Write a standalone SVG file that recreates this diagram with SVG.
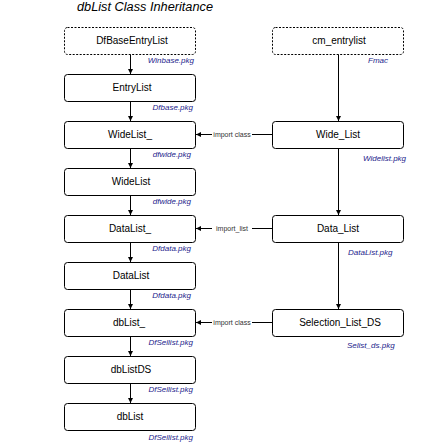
<svg xmlns="http://www.w3.org/2000/svg" width="438" height="448" viewBox="0 0 438 448">
<defs>
<marker id="ah" viewBox="0 0 8 8" refX="8" refY="4" markerWidth="5" markerHeight="5" orient="auto" markerUnits="userSpaceOnUse">
<path d="M0,0 L8,4 L0,8 z" fill="#000"/>
</marker>
<style>
.box{fill:#fff;stroke:#000;stroke-width:1}
.dot{stroke-dasharray:2,1.5}
.nt{font-family:"Liberation Sans",Arial,sans-serif;font-size:10px;fill:#000;text-anchor:middle}
.pk{font-family:"Liberation Sans",Arial,sans-serif;font-size:8px;font-style:italic;fill:#1c1c8c}
.pl{text-anchor:end}
.cl{font-family:"Liberation Sans",Arial,sans-serif;font-size:7px;fill:#333;text-anchor:middle}
.ln{stroke:#000;stroke-width:1;fill:none}
.ttl{font-family:"Liberation Sans",Arial,sans-serif;font-size:12px;font-style:italic;fill:#000}
</style>
</defs>
<rect width="438" height="448" fill="#fff"/>
<text class="ttl" x="77" y="10.5" textLength="136" lengthAdjust="spacingAndGlyphs">dbList Class Inheritance</text>

<g id="connectors">
<line class="ln" x1="130.5" y1="54" x2="130.5" y2="74" marker-end="url(#ah)"/>
<line class="ln" x1="130.5" y1="101" x2="130.5" y2="121" marker-end="url(#ah)"/>
<line class="ln" x1="130.5" y1="148" x2="130.5" y2="168" marker-end="url(#ah)"/>
<line class="ln" x1="130.5" y1="195" x2="130.5" y2="215" marker-end="url(#ah)"/>
<line class="ln" x1="130.5" y1="242" x2="130.5" y2="262" marker-end="url(#ah)"/>
<line class="ln" x1="130.5" y1="289" x2="130.5" y2="309" marker-end="url(#ah)"/>
<line class="ln" x1="130.5" y1="336" x2="130.5" y2="356" marker-end="url(#ah)"/>
<line class="ln" x1="130.5" y1="383" x2="130.5" y2="403" marker-end="url(#ah)"/>
<line class="ln" x1="338.5" y1="54" x2="338.5" y2="121" marker-end="url(#ah)"/>
<line class="ln" x1="338.5" y1="148" x2="338.5" y2="215" marker-end="url(#ah)"/>
<line class="ln" x1="338.5" y1="242" x2="338.5" y2="309" marker-end="url(#ah)"/>
<line class="ln" x1="212" y1="134.5" x2="196" y2="134.5" marker-end="url(#ah)"/>
<line class="ln" x1="252" y1="134.5" x2="272" y2="134.5"/>
<text class="cl" x="232" y="137">import class</text>
<line class="ln" x1="212" y1="228.5" x2="196" y2="228.5" marker-end="url(#ah)"/>
<line class="ln" x1="252" y1="228.5" x2="272" y2="228.5"/>
<text class="cl" x="232" y="231">import_list</text>
<line class="ln" x1="212" y1="322.5" x2="196" y2="322.5" marker-end="url(#ah)"/>
<line class="ln" x1="252" y1="322.5" x2="272" y2="322.5"/>
<text class="cl" x="232" y="325">import class</text>
</g>

<g id="DfBaseEntryList"><rect class="box dot" x="64.5" y="27.5" width="131" height="27" rx="3"/><text class="nt" x="132" y="44">DfBaseEntryList</text><text class="pk pl" x="194" y="63">Winbase.pkg</text></g>
<g id="EntryList"><rect class="box" x="64.5" y="74.5" width="131" height="27" rx="3"/><text class="nt" x="132" y="91">EntryList</text><text class="pk pl" x="193" y="110">Dfbase.pkg</text></g>
<g id="WideList_"><rect class="box" x="64.5" y="121.5" width="131" height="27" rx="3"/><text class="nt" x="130" y="138">WideList_</text><text class="pk pl" x="191" y="157">dfwide.pkg</text></g>
<g id="WideList"><rect class="box" x="64.5" y="168.5" width="131" height="27" rx="3"/><text class="nt" x="131" y="185">WideList</text><text class="pk pl" x="191" y="204">dfwide.pkg</text></g>
<g id="DataList_"><rect class="box" x="64.5" y="215.5" width="131" height="27" rx="3"/><text class="nt" x="130" y="232">DataList_</text><text class="pk pl" x="191" y="251">Dfdata.pkg</text></g>
<g id="DataList"><rect class="box" x="64.5" y="262.5" width="131" height="27" rx="3"/><text class="nt" x="131" y="279">DataList</text><text class="pk pl" x="191" y="298">Dfdata.pkg</text></g>
<g id="dbList_"><rect class="box" x="64.5" y="309.5" width="131" height="27" rx="3"/><text class="nt" x="129" y="326">dbList_</text><text class="pk pl" x="193" y="345">DfSellist.pkg</text></g>
<g id="dbListDS"><rect class="box" x="64.5" y="356.5" width="131" height="27" rx="3"/><text class="nt" x="131" y="373">dbListDS</text><text class="pk pl" x="193" y="392">DfSellist.pkg</text></g>
<g id="dbList"><rect class="box" x="64.5" y="403.5" width="131" height="27" rx="3"/><text class="nt" x="130" y="420">dbList</text><text class="pk pl" x="193" y="440">DfSellist.pkg</text></g>

<g id="cm_entrylist"><rect class="box dot" x="272.5" y="27.5" width="131" height="27" rx="3"/><text class="nt" x="339" y="44">cm_entrylist</text><text class="pk" x="368" y="63">Fmac</text></g>
<g id="Wide_List"><rect class="box" x="272.5" y="121.5" width="131" height="27" rx="3"/><text class="nt" x="338" y="138">Wide_List</text><text class="pk" x="363" y="161">Widelist.pkg</text></g>
<g id="Data_List"><rect class="box" x="272.5" y="215.5" width="131" height="27" rx="3"/><text class="nt" x="338" y="232">Data_List</text><text class="pk" x="348" y="255">DataList.pkg</text></g>
<g id="Selection_List_DS"><rect class="box" x="272.5" y="309.5" width="131" height="27" rx="3"/><text class="nt" x="340" y="326">Selection_List_DS</text><text class="pk" x="347" y="348">Selist_ds.pkg</text></g>
</svg>
